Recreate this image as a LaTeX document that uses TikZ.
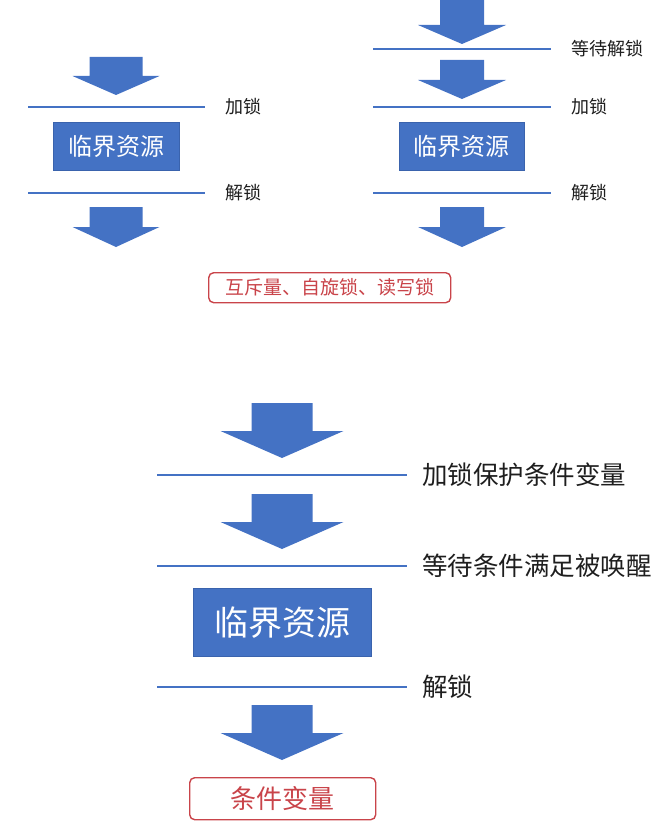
\documentclass[tikz,border=0pt]{standalone}
\usepackage{fontspec}
\setmainfont{Noto Sans CJK SC}
\definecolor{pblue}{HTML}{4472C4}
\definecolor{pblueedge}{HTML}{3A63AD}
\definecolor{pred}{HTML}{C9444A}
\definecolor{ptext}{HTML}{1E1E1E}
\newcommand\flowarrow[6]{% cx, top, wing y, tip y, half shaft, half wing
  \fill[pblue] (#1-#5,#2) -- (#1+#5,#2) -- (#1+#5,#3) -- (#1+#6,#3) -- (#1,#4) -- (#1-#6,#3) -- (#1-#5,#3) -- cycle;}
\tikzset{
  sepline/.style={draw=pblue, line width=1.6pt},
  resbox/.style={fill=pblue, draw=pblueedge, line width=0.8pt, text=white, inner sep=0pt, anchor=north west},
  redbox/.style={draw=pred, line width=1.4pt, rounded corners=5pt, text=pred, inner sep=0pt, anchor=north west},
  lab/.style={anchor=west, text=ptext, inner sep=0pt},
}
\begin{document}
\begin{tikzpicture}[x=1pt,y=-1pt]
\useasboundingbox (0,0) rectangle (665,829);
% ---------- top left ----------
\flowarrow{116}{57}{76}{95}{26.5}{43.5}
\draw[sepline] (28,107) -- (205,107);
\node[lab, font=\fontsize{18}{18}\selectfont] (l1) at (225,107) {加锁};
\node[resbox, minimum width=126pt, minimum height=48pt, font=\fontsize{24}{24}\selectfont] (r1) at (53,122) {临界资源};
\draw[sepline] (28,193) -- (205,193);
\node[lab, font=\fontsize{18}{18}\selectfont] (l2) at (225,193) {解锁};
\flowarrow{116}{207}{227}{247}{26.5}{43.5}
\node[redbox, minimum width=242pt, minimum height=30pt, font=\fontsize{19}{19}\selectfont] (m1) at (208,272) {互斥量、自旋锁、读写锁};
% ---------- top right ----------
\flowarrow{462}{0}{25}{44}{22}{44}
\draw[sepline] (373,49) -- (551,49);
\node[lab, font=\fontsize{18}{18}\selectfont] (l3) at (571,49) {等待解锁};
\flowarrow{462}{60}{80}{99}{22}{44}
\draw[sepline] (373,107) -- (551,107);
\node[lab, font=\fontsize{18}{18}\selectfont] (l4) at (571,107) {加锁};
\node[resbox, minimum width=125pt, minimum height=48pt, font=\fontsize{24}{24}\selectfont] (r2) at (399,122) {临界资源};
\draw[sepline] (373,193) -- (551,193);
\node[lab, font=\fontsize{18}{18}\selectfont] (l5) at (571,193) {解锁};
\flowarrow{462}{207}{227}{247}{22}{44}
% ---------- bottom ----------
\flowarrow{282}{403}{431}{458}{30.5}{61.5}
\draw[sepline] (157,475) -- (407,475);
\node[lab, font=\fontsize{25.5}{25.5}\selectfont] (l6) at (422,475) {加锁保护条件变量};
\flowarrow{282}{494}{522}{549}{30.5}{61.5}
\draw[sepline] (157,566) -- (407,566);
\node[lab, font=\fontsize{25.5}{25.5}\selectfont] (l7) at (422,566) {等待条件满足被唤醒};
\node[resbox, minimum width=178pt, minimum height=68pt, font=\fontsize{34}{34}\selectfont] (r3) at (193,588) {临界资源};
\draw[sepline] (157,687) -- (407,687);
\node[lab, font=\fontsize{25.5}{25.5}\selectfont] (l8) at (422,687) {解锁};
\flowarrow{282}{705}{733}{760}{30.5}{61.5}
\node[redbox, minimum width=186pt, minimum height=42pt, font=\fontsize{26}{26}\selectfont] (m2) at (189,777) {条件变量};
\end{tikzpicture}
\end{document}
